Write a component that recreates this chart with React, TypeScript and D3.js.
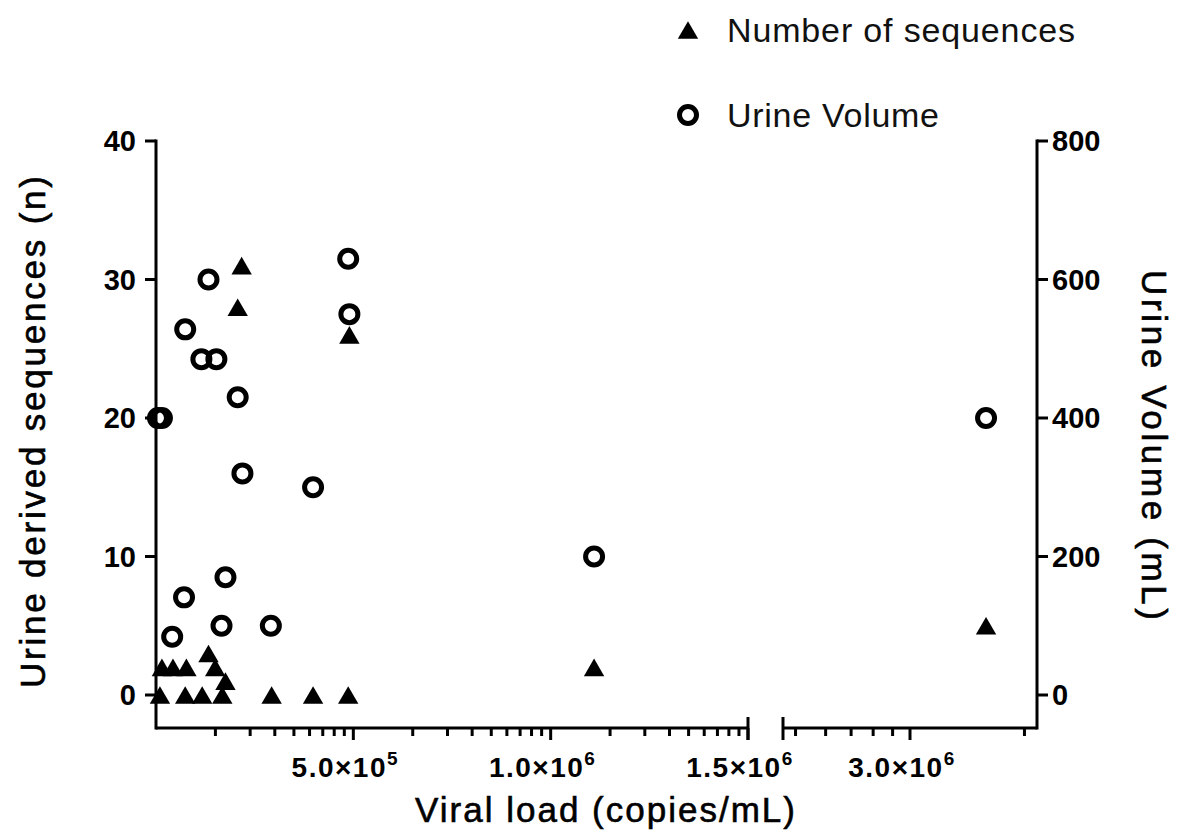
import * as d3 from 'd3'

// Number of sequences (left axis): [viral load, n]
const seqPoints: [number, number][] = [
  [10e3, 0], [74e3, 0], [117e3, 0], [168e3, 0], [293e3, 0], [398e3, 0], [487e3, 0],
  [15e3, 2], [43e3, 2], [77e3, 2], [150e3, 2], [133e3, 3], [176e3, 1],
  [207e3, 28], [217e3, 31], [490e3, 26], [1.11e6, 2], [3.2e6, 5],
]

// Urine volume (right axis): [viral load, mL]
const volPoints: [number, number][] = [
  [5e3, 400], [15e3, 400], [41e3, 84], [71e3, 141], [74e3, 528], [115e3, 485],
  [153e3, 485], [133e3, 600], [166e3, 100], [176e3, 170], [207e3, 430],
  [219e3, 320], [291e3, 100], [398e3, 300], [487e3, 630], [490e3, 550],
  [1.11e6, 200], [3.2e6, 400],
]

const leftTicks = [0, 10, 20, 30, 40]
const rightTicks = [0, 200, 400, 600, 800]
const xTickValues = [5e5, 1e6, 1.5e6, 3e6]
const xTickMantissa = ['5.0', '1.0', '1.5', '3.0']
const xTickExp = ['5', '6', '6', '6']
const legendLabels = ['Number of sequences', 'Urine Volume']

const W = 1178
const H = 832
const axisY = 728
const font = 'Arial, "Liberation Sans", Helvetica, sans-serif'

// log-style minor ticks inside each major interval (as GraphPad draws them)
function logMinor(start: number, step: number, n: number, lo: number, hi: number) {
  const out: number[] = []
  for (let i = 0; i < n; i++) {
    const a = start + i * step
    for (let k = 2; k <= 9; k++) {
      const v = a + Math.log10(k) * step
      if (v > lo && v < hi) out.push(v)
    }
  }
  return out
}

export default function App() {
  const x1 = d3.scaleLinear([0, 1.5e6], [156, 748])
  const x2 = d3.scaleLinear([2.666e6, 3.334e6], [783, 1037])
  const xv = (v: number) => (v <= 1.5e6 ? x1(v) : x2(v))
  const yL = d3.scaleLinear([0, 40], [695, 141])
  const yR = d3.scaleLinear([0, 800], [695, 141])

  const minor1 = logMinor(0, 5e5, 3, 0, 1.5e6)
  const minor2 = logMinor(2e6, 1e6, 2, 2.666e6, 3.334e6)

  const tri = d3.symbol().type(d3.symbolTriangle).size(180)() || ''
  const triShift = 2.95
  const xLeft = x1.range()[0]
  const xRight = x2.range()[1]
  const top = yL(40)

  return (
    <svg
      width={W}
      height={H}
      style={{ position: 'absolute', left: 0, top: 0, background: 'white' }}
      fontFamily={font}
    >
      <rect width={W} height={H} fill="white" />

      {/* left axis */}
      <line x1={xLeft} x2={xLeft} y1={top - 1.5} y2={axisY + 1.5} stroke="black" strokeWidth={3} />
      {leftTicks.map((t) => (
        <g key={t}>
          <line x1={xLeft - 11} x2={xLeft} y1={yL(t)} y2={yL(t)} stroke="black" strokeWidth={3} />
          <text x={136} y={yL(t) + 10} textAnchor="end" fontSize={29} fontWeight="bold">
            {t}
          </text>
        </g>
      ))}

      {/* right axis */}
      <line x1={xRight} x2={xRight} y1={top - 1.5} y2={axisY + 1.5} stroke="black" strokeWidth={3} />
      {rightTicks.map((t) => (
        <g key={t}>
          <line x1={xRight} x2={xRight + 11} y1={yR(t)} y2={yR(t)} stroke="black" strokeWidth={3} />
          <text x={1052} y={yR(t) + 10} fontSize={29} fontWeight="bold">
            {t}
          </text>
        </g>
      ))}

      {/* x axis, broken */}
      <line x1={xLeft} x2={x1(1.5e6)} y1={axisY} y2={axisY} stroke="black" strokeWidth={3} />
      <line x1={x2.range()[0]} x2={xRight} y1={axisY} y2={axisY} stroke="black" strokeWidth={3} />
      {[...minor1.map((v) => x1(v)), ...minor2.map((v) => x2(v))].map((px, i) => (
        <line key={'m' + i} x1={px} x2={px} y1={axisY} y2={axisY + 8} stroke="black" strokeWidth={3} />
      ))}
      {xTickValues.map((v) => (
        <line key={'M' + v} x1={xv(v)} x2={xv(v)} y1={axisY} y2={axisY + 12} stroke="black" strokeWidth={3} />
      ))}
      {[x1(1.5e6), x2.range()[0]].map((px, i) => (
        <line key={'b' + i} x1={px} x2={px} y1={axisY - 11} y2={axisY + 12} stroke="black" strokeWidth={3} />
      ))}
      {xTickValues.map((v, i) => (
        <text
          key={'l' + v}
          x={xv(v) - 8}
          y={777}
          textAnchor="middle"
          fontSize={28}
          fontWeight="bold"
          letterSpacing={1.5}
        >
          {xTickMantissa[i]}×10
          <tspan fontSize={19} dy={-12}>
            {xTickExp[i]}
          </tspan>
        </text>
      ))}

      {/* axis titles */}
      <g stroke="black" strokeWidth={0.6}>
        <text x={605} y={822} textAnchor="middle" fontSize={35} textLength={380} lengthAdjust="spacing">
          Viral load (copies/mL)
        </text>
        <text
          transform={`translate(45,432) rotate(-90)`}
          textAnchor="middle"
          fontSize={35}
          textLength={512}
          lengthAdjust="spacing"
        >
          Urine derived sequences (n)
        </text>
        <text
          transform={`translate(1142,445) rotate(90)`}
          textAnchor="middle"
          fontSize={35}
          textLength={350}
          lengthAdjust="spacing"
        >
          Urine Volume (mL)
        </text>
      </g>

      {/* data */}
      {volPoints.map(([vx, vy], i) => (
        <circle key={'c' + i} cx={xv(vx)} cy={yR(vy)} r={8.5} fill="none" stroke="black" strokeWidth={5} />
      ))}
      {seqPoints.map(([vx, vy], i) => (
        <path key={'t' + i} d={tri} transform={`translate(${xv(vx)},${yL(vy) + triShift})`} fill="black" />
      ))}

      {/* legend */}
      <path d={tri} transform={`translate(688,${30 + triShift})`} fill="black" />
      <circle cx={688} cy={115} r={8.5} fill="none" stroke="black" strokeWidth={5} />
      <text x={727} y={42} fontSize={34} fill="#111" textLength={348} lengthAdjust="spacing">
        {legendLabels[0]}
      </text>
      <text x={727} y={127} fontSize={34} fill="#111" textLength={212} lengthAdjust="spacing">
        {legendLabels[1]}
      </text>
    </svg>
  )
}
